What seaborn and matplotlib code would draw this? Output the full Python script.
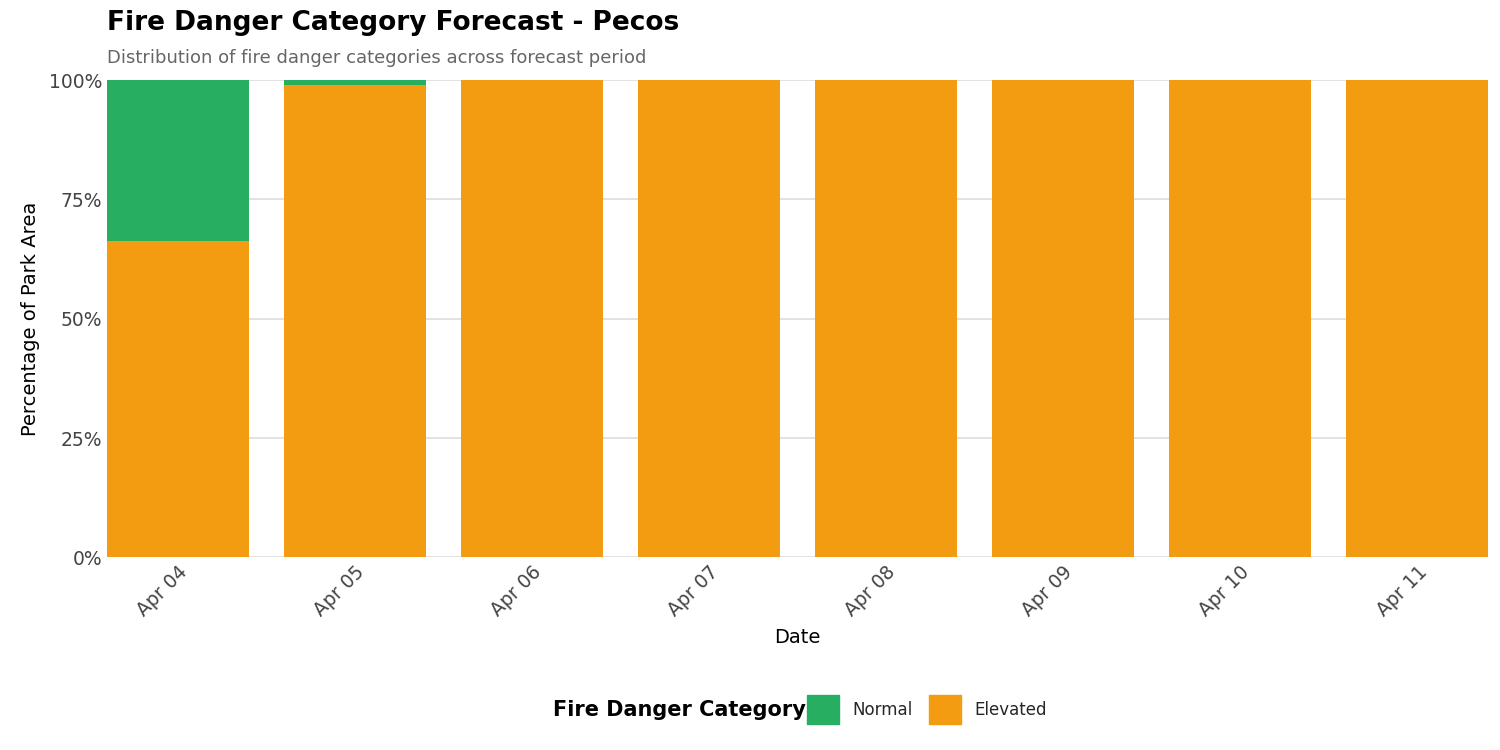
import numpy as np
import pandas as pd
import matplotlib
matplotlib.use("Agg")
import matplotlib.pyplot as plt
import seaborn as sns
from matplotlib.patches import Patch
from matplotlib.ticker import PercentFormatter

dates = ["Apr 04", "Apr 05", "Apr 06", "Apr 07", "Apr 08", "Apr 09", "Apr 10", "Apr 11"]
elevated = [66.3, 99.0, 100, 100, 100, 100, 100, 100]
normal = [33.7, 1.0, 0, 0, 0, 0, 0, 0]

green = "#27ae60"
orange = "#f39c12"

df = pd.DataFrame({"date": dates, "Elevated": elevated, "Normal": normal})
df["total"] = df["Elevated"] + df["Normal"]

sns.set_style("white")
plt.rcParams["font.family"] = ["DejaVu Sans"]

fig = plt.figure(figsize=(15, 7.5), dpi=100)
ax = fig.add_axes([0.0713, 0.257, 0.9207, 0.636])

sns.barplot(data=df, x="date", y="total", color=green, width=0.8, saturation=1,
            linewidth=0, ax=ax, zorder=2)
sns.barplot(data=df, x="date", y="Elevated", color=orange, width=0.8, saturation=1,
            linewidth=0, ax=ax, zorder=3)

ax.set_xlim(-0.4, 7.4)
ax.set_ylim(0, 100)
ax.set_yticks([0, 25, 50, 75, 100])
ax.yaxis.set_major_formatter(PercentFormatter(decimals=0))
ax.grid(axis="y", color="#dddddd", linewidth=1.2, zorder=0)
ax.set_axisbelow(True)
for s in ax.spines.values():
    s.set_visible(False)
ax.tick_params(axis="both", length=0, labelsize=13.5, labelcolor="#444444")
plt.setp(ax.get_xticklabels(), rotation=45, ha="right", rotation_mode="anchor")
ax.set_xlabel("Date", fontsize=14, labelpad=6, color="black")
ax.set_ylabel("Percentage of Park Area", fontsize=14, labelpad=6, color="black")

fig.text(0.0713, 0.97, "Fire Danger Category Forecast - Pecos", fontsize=19,
         fontweight="bold", va="center", color="black")
fig.text(0.0713, 0.923, "Distribution of fire danger categories across forecast period",
         fontsize=13, color="#666666", va="center")

fig.text(0.537, 0.054, "Fire Danger Category", fontsize=15, fontweight="bold",
         ha="right", va="center", color="black")
handles = [Patch(color=green, label="Normal"), Patch(color=orange, label="Elevated")]
fig.legend(handles=handles, loc="center left", bbox_to_anchor=(0.538, 0.054), ncol=2,
           frameon=False, fontsize=12, handlelength=1.9, handleheight=2.3,
           columnspacing=1.0, handletextpad=0.8, borderpad=0, borderaxespad=0)

fig.savefig("out.png", dpi=100)
